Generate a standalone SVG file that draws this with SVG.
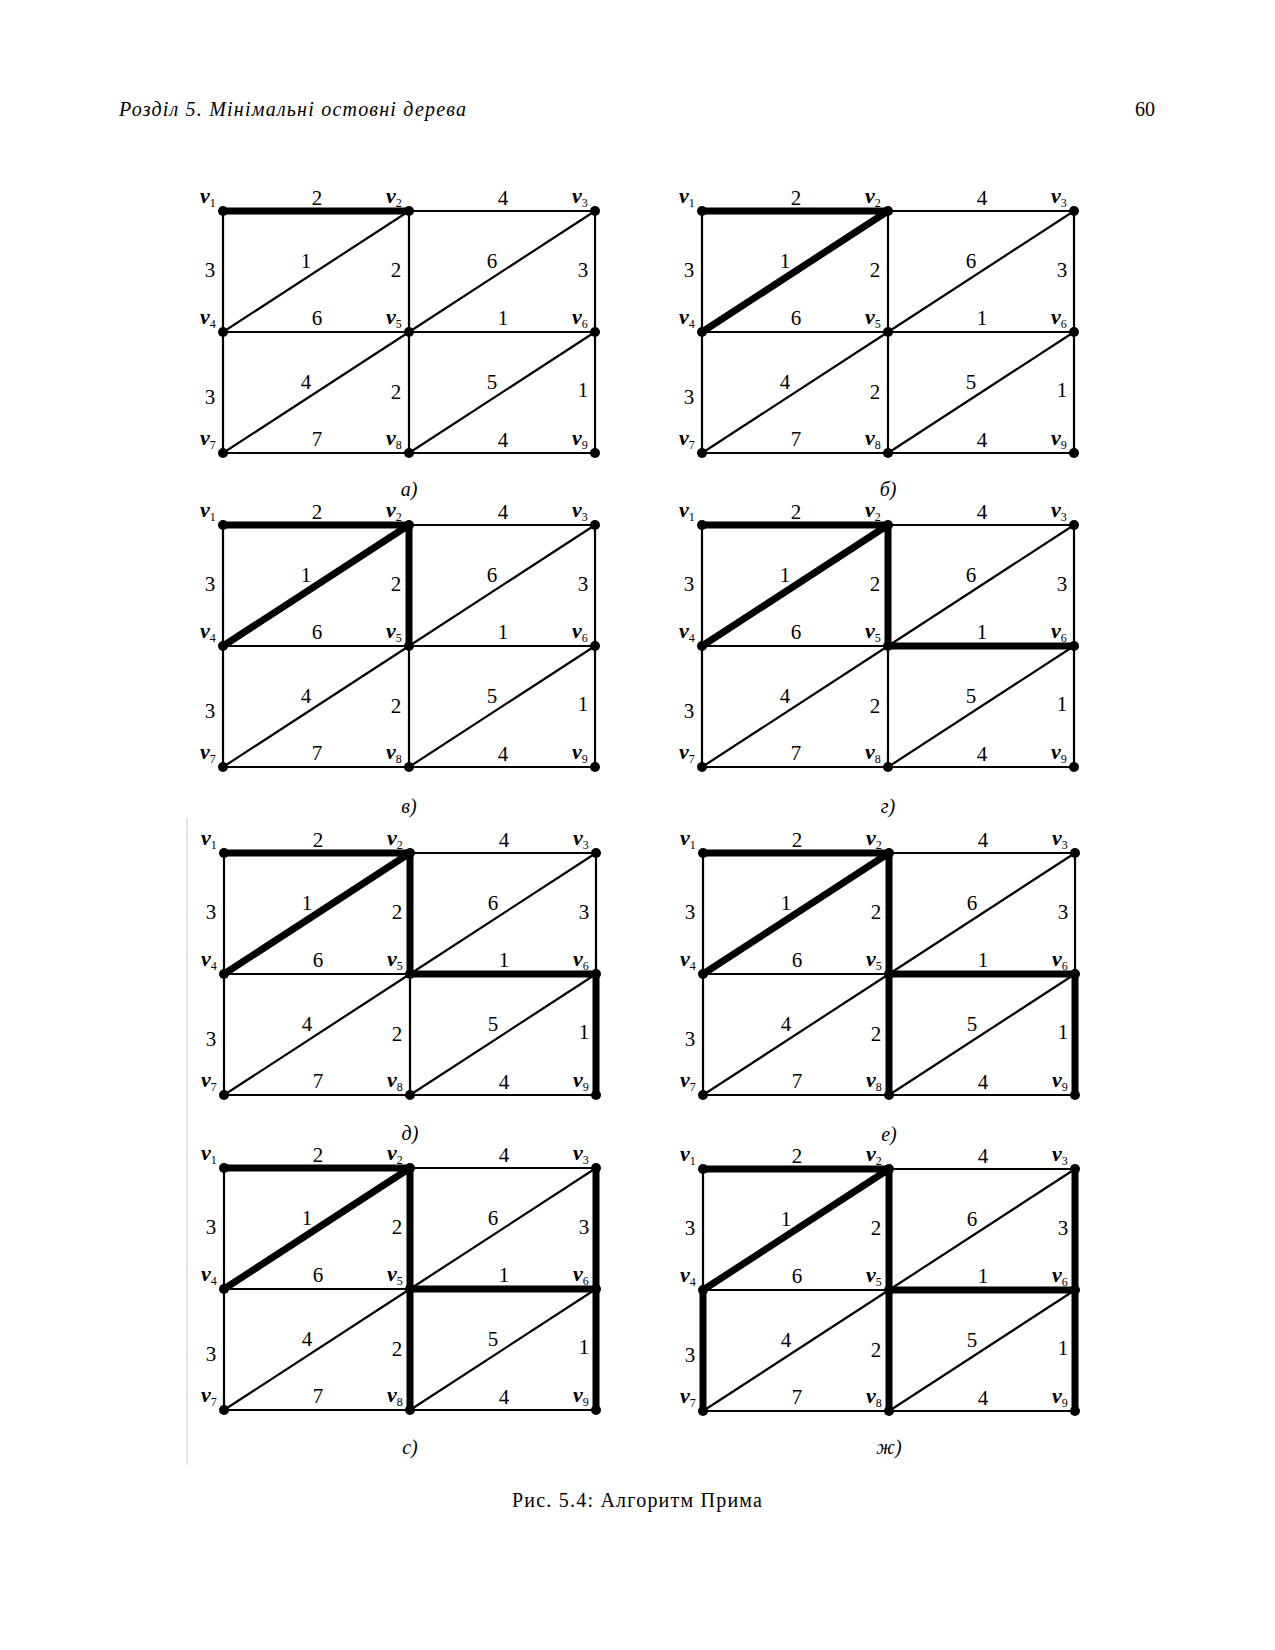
<svg xmlns="http://www.w3.org/2000/svg" width="1275" height="1650" viewBox="0 0 1275 1650">
<style>
.e{fill:none;stroke:#000;stroke-width:2.2}
.t{fill:none;stroke:#000;stroke-width:7}
circle{fill:#000}
.vl{font-family:"Liberation Serif",serif;font-style:italic;font-weight:bold;font-size:22px}
.vl tspan{font-size:12px;font-weight:normal;font-style:normal}
.wt{font-family:"Liberation Serif",serif;font-size:21px;text-anchor:middle}
.cap{font-family:"Liberation Serif",serif;font-style:italic;font-size:20px;text-anchor:middle}
.hd{font-family:"Liberation Serif",serif;font-size:20px}
</style>
<rect width="1275" height="1650" fill="#fff"/>
<text class="hd" x="119" y="116" font-style="italic" textLength="347" lengthAdjust="spacing">Розділ 5.  Мінімальні остовні дерева</text>
<text class="hd" x="1155" y="116" text-anchor="end">60</text>
<line x1="187" y1="818" x2="187" y2="1465" stroke="#c8c8c8" stroke-width="1"/>

<g id="panel-a" transform="translate(223,211)">
<g id="a-connectors">
<path class="e" d="M0 0H372M0 121H372M0 242H372M0 0V242M186 0V242M372 0V242M0 121L186 0M186 121L372 0M0 242L186 121M186 242L372 121"/>
<path class="t" d="M0 0H186"/>
<g class="wt"><text x="94" y="-6">2</text><text x="280" y="-6">4</text><text x="-13" y="66">3</text><text x="83" y="57">1</text><text x="173" y="66">2</text><text x="269" y="57">6</text><text x="360" y="66">3</text><text x="94" y="114">6</text><text x="280" y="114">1</text><text x="-13" y="193">3</text><text x="83" y="178">4</text><text x="173" y="188">2</text><text x="269" y="178">5</text><text x="360" y="186">1</text><text x="94" y="235">7</text><text x="280" y="236">4</text></g>
</g>
<g id="a-v1"><circle cx="0" cy="0" r="5"/><text class="vl" x="-23" y="-8">v<tspan dy="4">1</tspan></text></g>
<g id="a-v2"><circle cx="186" cy="0" r="5"/><text class="vl" x="163" y="-8">v<tspan dy="4">2</tspan></text></g>
<g id="a-v3"><circle cx="372" cy="0" r="5"/><text class="vl" x="349" y="-8">v<tspan dy="4">3</tspan></text></g>
<g id="a-v4"><circle cx="0" cy="121" r="5"/><text class="vl" x="-23" y="113">v<tspan dy="4">4</tspan></text></g>
<g id="a-v5"><circle cx="186" cy="121" r="5"/><text class="vl" x="163" y="113">v<tspan dy="4">5</tspan></text></g>
<g id="a-v6"><circle cx="372" cy="121" r="5"/><text class="vl" x="349" y="113">v<tspan dy="4">6</tspan></text></g>
<g id="a-v7"><circle cx="0" cy="242" r="5"/><text class="vl" x="-23" y="234">v<tspan dy="4">7</tspan></text></g>
<g id="a-v8"><circle cx="186" cy="242" r="5"/><text class="vl" x="163" y="234">v<tspan dy="4">8</tspan></text></g>
<g id="a-v9"><circle cx="372" cy="242" r="5"/><text class="vl" x="349" y="234">v<tspan dy="4">9</tspan></text></g>
<text class="cap" x="186" y="285">а)</text>
</g>

<g id="panel-b" transform="translate(702,211)">
<g id="b-connectors">
<path class="e" d="M0 0H372M0 121H372M0 242H372M0 0V242M186 0V242M372 0V242M0 121L186 0M186 121L372 0M0 242L186 121M186 242L372 121"/>
<path class="t" d="M0 0H186M0 121L186 0"/>
<g class="wt"><text x="94" y="-6">2</text><text x="280" y="-6">4</text><text x="-13" y="66">3</text><text x="83" y="57">1</text><text x="173" y="66">2</text><text x="269" y="57">6</text><text x="360" y="66">3</text><text x="94" y="114">6</text><text x="280" y="114">1</text><text x="-13" y="193">3</text><text x="83" y="178">4</text><text x="173" y="188">2</text><text x="269" y="178">5</text><text x="360" y="186">1</text><text x="94" y="235">7</text><text x="280" y="236">4</text></g>
</g>
<g id="b-v1"><circle cx="0" cy="0" r="5"/><text class="vl" x="-23" y="-8">v<tspan dy="4">1</tspan></text></g>
<g id="b-v2"><circle cx="186" cy="0" r="5"/><text class="vl" x="163" y="-8">v<tspan dy="4">2</tspan></text></g>
<g id="b-v3"><circle cx="372" cy="0" r="5"/><text class="vl" x="349" y="-8">v<tspan dy="4">3</tspan></text></g>
<g id="b-v4"><circle cx="0" cy="121" r="5"/><text class="vl" x="-23" y="113">v<tspan dy="4">4</tspan></text></g>
<g id="b-v5"><circle cx="186" cy="121" r="5"/><text class="vl" x="163" y="113">v<tspan dy="4">5</tspan></text></g>
<g id="b-v6"><circle cx="372" cy="121" r="5"/><text class="vl" x="349" y="113">v<tspan dy="4">6</tspan></text></g>
<g id="b-v7"><circle cx="0" cy="242" r="5"/><text class="vl" x="-23" y="234">v<tspan dy="4">7</tspan></text></g>
<g id="b-v8"><circle cx="186" cy="242" r="5"/><text class="vl" x="163" y="234">v<tspan dy="4">8</tspan></text></g>
<g id="b-v9"><circle cx="372" cy="242" r="5"/><text class="vl" x="349" y="234">v<tspan dy="4">9</tspan></text></g>
<text class="cap" x="186" y="285">б)</text>
</g>

<g id="panel-c" transform="translate(223,525)">
<g id="c-connectors">
<path class="e" d="M0 0H372M0 121H372M0 242H372M0 0V242M186 0V242M372 0V242M0 121L186 0M186 121L372 0M0 242L186 121M186 242L372 121"/>
<path class="t" d="M0 0H186M0 121L186 0M186 0V121"/>
<g class="wt"><text x="94" y="-6">2</text><text x="280" y="-6">4</text><text x="-13" y="66">3</text><text x="83" y="57">1</text><text x="173" y="66">2</text><text x="269" y="57">6</text><text x="360" y="66">3</text><text x="94" y="114">6</text><text x="280" y="114">1</text><text x="-13" y="193">3</text><text x="83" y="178">4</text><text x="173" y="188">2</text><text x="269" y="178">5</text><text x="360" y="186">1</text><text x="94" y="235">7</text><text x="280" y="236">4</text></g>
</g>
<g id="c-v1"><circle cx="0" cy="0" r="5"/><text class="vl" x="-23" y="-8">v<tspan dy="4">1</tspan></text></g>
<g id="c-v2"><circle cx="186" cy="0" r="5"/><text class="vl" x="163" y="-8">v<tspan dy="4">2</tspan></text></g>
<g id="c-v3"><circle cx="372" cy="0" r="5"/><text class="vl" x="349" y="-8">v<tspan dy="4">3</tspan></text></g>
<g id="c-v4"><circle cx="0" cy="121" r="5"/><text class="vl" x="-23" y="113">v<tspan dy="4">4</tspan></text></g>
<g id="c-v5"><circle cx="186" cy="121" r="5"/><text class="vl" x="163" y="113">v<tspan dy="4">5</tspan></text></g>
<g id="c-v6"><circle cx="372" cy="121" r="5"/><text class="vl" x="349" y="113">v<tspan dy="4">6</tspan></text></g>
<g id="c-v7"><circle cx="0" cy="242" r="5"/><text class="vl" x="-23" y="234">v<tspan dy="4">7</tspan></text></g>
<g id="c-v8"><circle cx="186" cy="242" r="5"/><text class="vl" x="163" y="234">v<tspan dy="4">8</tspan></text></g>
<g id="c-v9"><circle cx="372" cy="242" r="5"/><text class="vl" x="349" y="234">v<tspan dy="4">9</tspan></text></g>
<text class="cap" x="186" y="288">в)</text>
</g>

<g id="panel-d" transform="translate(702,525)">
<g id="d-connectors">
<path class="e" d="M0 0H372M0 121H372M0 242H372M0 0V242M186 0V242M372 0V242M0 121L186 0M186 121L372 0M0 242L186 121M186 242L372 121"/>
<path class="t" d="M0 0H186M0 121L186 0M186 0V121M186 121H372"/>
<g class="wt"><text x="94" y="-6">2</text><text x="280" y="-6">4</text><text x="-13" y="66">3</text><text x="83" y="57">1</text><text x="173" y="66">2</text><text x="269" y="57">6</text><text x="360" y="66">3</text><text x="94" y="114">6</text><text x="280" y="114">1</text><text x="-13" y="193">3</text><text x="83" y="178">4</text><text x="173" y="188">2</text><text x="269" y="178">5</text><text x="360" y="186">1</text><text x="94" y="235">7</text><text x="280" y="236">4</text></g>
</g>
<g id="d-v1"><circle cx="0" cy="0" r="5"/><text class="vl" x="-23" y="-8">v<tspan dy="4">1</tspan></text></g>
<g id="d-v2"><circle cx="186" cy="0" r="5"/><text class="vl" x="163" y="-8">v<tspan dy="4">2</tspan></text></g>
<g id="d-v3"><circle cx="372" cy="0" r="5"/><text class="vl" x="349" y="-8">v<tspan dy="4">3</tspan></text></g>
<g id="d-v4"><circle cx="0" cy="121" r="5"/><text class="vl" x="-23" y="113">v<tspan dy="4">4</tspan></text></g>
<g id="d-v5"><circle cx="186" cy="121" r="5"/><text class="vl" x="163" y="113">v<tspan dy="4">5</tspan></text></g>
<g id="d-v6"><circle cx="372" cy="121" r="5"/><text class="vl" x="349" y="113">v<tspan dy="4">6</tspan></text></g>
<g id="d-v7"><circle cx="0" cy="242" r="5"/><text class="vl" x="-23" y="234">v<tspan dy="4">7</tspan></text></g>
<g id="d-v8"><circle cx="186" cy="242" r="5"/><text class="vl" x="163" y="234">v<tspan dy="4">8</tspan></text></g>
<g id="d-v9"><circle cx="372" cy="242" r="5"/><text class="vl" x="349" y="234">v<tspan dy="4">9</tspan></text></g>
<text class="cap" x="186" y="288">г)</text>
</g>

<g id="panel-e" transform="translate(224,853)">
<g id="e-connectors">
<path class="e" d="M0 0H372M0 121H372M0 242H372M0 0V242M186 0V242M372 0V242M0 121L186 0M186 121L372 0M0 242L186 121M186 242L372 121"/>
<path class="t" d="M0 0H186M0 121L186 0M186 0V121M186 121H372M372 121V242"/>
<g class="wt"><text x="94" y="-6">2</text><text x="280" y="-6">4</text><text x="-13" y="66">3</text><text x="83" y="57">1</text><text x="173" y="66">2</text><text x="269" y="57">6</text><text x="360" y="66">3</text><text x="94" y="114">6</text><text x="280" y="114">1</text><text x="-13" y="193">3</text><text x="83" y="178">4</text><text x="173" y="188">2</text><text x="269" y="178">5</text><text x="360" y="186">1</text><text x="94" y="235">7</text><text x="280" y="236">4</text></g>
</g>
<g id="e-v1"><circle cx="0" cy="0" r="5"/><text class="vl" x="-23" y="-8">v<tspan dy="4">1</tspan></text></g>
<g id="e-v2"><circle cx="186" cy="0" r="5"/><text class="vl" x="163" y="-8">v<tspan dy="4">2</tspan></text></g>
<g id="e-v3"><circle cx="372" cy="0" r="5"/><text class="vl" x="349" y="-8">v<tspan dy="4">3</tspan></text></g>
<g id="e-v4"><circle cx="0" cy="121" r="5"/><text class="vl" x="-23" y="113">v<tspan dy="4">4</tspan></text></g>
<g id="e-v5"><circle cx="186" cy="121" r="5"/><text class="vl" x="163" y="113">v<tspan dy="4">5</tspan></text></g>
<g id="e-v6"><circle cx="372" cy="121" r="5"/><text class="vl" x="349" y="113">v<tspan dy="4">6</tspan></text></g>
<g id="e-v7"><circle cx="0" cy="242" r="5"/><text class="vl" x="-23" y="234">v<tspan dy="4">7</tspan></text></g>
<g id="e-v8"><circle cx="186" cy="242" r="5"/><text class="vl" x="163" y="234">v<tspan dy="4">8</tspan></text></g>
<g id="e-v9"><circle cx="372" cy="242" r="5"/><text class="vl" x="349" y="234">v<tspan dy="4">9</tspan></text></g>
<text class="cap" x="186" y="287">д)</text>
</g>

<g id="panel-f" transform="translate(703,853)">
<g id="f-connectors">
<path class="e" d="M0 0H372M0 121H372M0 242H372M0 0V242M186 0V242M372 0V242M0 121L186 0M186 121L372 0M0 242L186 121M186 242L372 121"/>
<path class="t" d="M0 0H186M0 121L186 0M186 0V121M186 121H372M372 121V242M186 121V242"/>
<g class="wt"><text x="94" y="-6">2</text><text x="280" y="-6">4</text><text x="-13" y="66">3</text><text x="83" y="57">1</text><text x="173" y="66">2</text><text x="269" y="57">6</text><text x="360" y="66">3</text><text x="94" y="114">6</text><text x="280" y="114">1</text><text x="-13" y="193">3</text><text x="83" y="178">4</text><text x="173" y="188">2</text><text x="269" y="178">5</text><text x="360" y="186">1</text><text x="94" y="235">7</text><text x="280" y="236">4</text></g>
</g>
<g id="f-v1"><circle cx="0" cy="0" r="5"/><text class="vl" x="-23" y="-8">v<tspan dy="4">1</tspan></text></g>
<g id="f-v2"><circle cx="186" cy="0" r="5"/><text class="vl" x="163" y="-8">v<tspan dy="4">2</tspan></text></g>
<g id="f-v3"><circle cx="372" cy="0" r="5"/><text class="vl" x="349" y="-8">v<tspan dy="4">3</tspan></text></g>
<g id="f-v4"><circle cx="0" cy="121" r="5"/><text class="vl" x="-23" y="113">v<tspan dy="4">4</tspan></text></g>
<g id="f-v5"><circle cx="186" cy="121" r="5"/><text class="vl" x="163" y="113">v<tspan dy="4">5</tspan></text></g>
<g id="f-v6"><circle cx="372" cy="121" r="5"/><text class="vl" x="349" y="113">v<tspan dy="4">6</tspan></text></g>
<g id="f-v7"><circle cx="0" cy="242" r="5"/><text class="vl" x="-23" y="234">v<tspan dy="4">7</tspan></text></g>
<g id="f-v8"><circle cx="186" cy="242" r="5"/><text class="vl" x="163" y="234">v<tspan dy="4">8</tspan></text></g>
<g id="f-v9"><circle cx="372" cy="242" r="5"/><text class="vl" x="349" y="234">v<tspan dy="4">9</tspan></text></g>
<text class="cap" x="186" y="288">е)</text>
</g>

<g id="panel-g" transform="translate(224,1168)">
<g id="g-connectors">
<path class="e" d="M0 0H372M0 121H372M0 242H372M0 0V242M186 0V242M372 0V242M0 121L186 0M186 121L372 0M0 242L186 121M186 242L372 121"/>
<path class="t" d="M0 0H186M0 121L186 0M186 0V121M186 121H372M372 121V242M186 121V242M372 0V121"/>
<g class="wt"><text x="94" y="-6">2</text><text x="280" y="-6">4</text><text x="-13" y="66">3</text><text x="83" y="57">1</text><text x="173" y="66">2</text><text x="269" y="57">6</text><text x="360" y="66">3</text><text x="94" y="114">6</text><text x="280" y="114">1</text><text x="-13" y="193">3</text><text x="83" y="178">4</text><text x="173" y="188">2</text><text x="269" y="178">5</text><text x="360" y="186">1</text><text x="94" y="235">7</text><text x="280" y="236">4</text></g>
</g>
<g id="g-v1"><circle cx="0" cy="0" r="5"/><text class="vl" x="-23" y="-8">v<tspan dy="4">1</tspan></text></g>
<g id="g-v2"><circle cx="186" cy="0" r="5"/><text class="vl" x="163" y="-8">v<tspan dy="4">2</tspan></text></g>
<g id="g-v3"><circle cx="372" cy="0" r="5"/><text class="vl" x="349" y="-8">v<tspan dy="4">3</tspan></text></g>
<g id="g-v4"><circle cx="0" cy="121" r="5"/><text class="vl" x="-23" y="113">v<tspan dy="4">4</tspan></text></g>
<g id="g-v5"><circle cx="186" cy="121" r="5"/><text class="vl" x="163" y="113">v<tspan dy="4">5</tspan></text></g>
<g id="g-v6"><circle cx="372" cy="121" r="5"/><text class="vl" x="349" y="113">v<tspan dy="4">6</tspan></text></g>
<g id="g-v7"><circle cx="0" cy="242" r="5"/><text class="vl" x="-23" y="234">v<tspan dy="4">7</tspan></text></g>
<g id="g-v8"><circle cx="186" cy="242" r="5"/><text class="vl" x="163" y="234">v<tspan dy="4">8</tspan></text></g>
<g id="g-v9"><circle cx="372" cy="242" r="5"/><text class="vl" x="349" y="234">v<tspan dy="4">9</tspan></text></g>
<text class="cap" x="186" y="286">с)</text>
</g>

<g id="panel-h" transform="translate(703,1169)">
<g id="h-connectors">
<path class="e" d="M0 0H372M0 121H372M0 242H372M0 0V242M186 0V242M372 0V242M0 121L186 0M186 121L372 0M0 242L186 121M186 242L372 121"/>
<path class="t" d="M0 0H186M0 121L186 0M186 0V121M186 121H372M372 121V242M186 121V242M372 0V121M0 121V242"/>
<g class="wt"><text x="94" y="-6">2</text><text x="280" y="-6">4</text><text x="-13" y="66">3</text><text x="83" y="57">1</text><text x="173" y="66">2</text><text x="269" y="57">6</text><text x="360" y="66">3</text><text x="94" y="114">6</text><text x="280" y="114">1</text><text x="-13" y="193">3</text><text x="83" y="178">4</text><text x="173" y="188">2</text><text x="269" y="178">5</text><text x="360" y="186">1</text><text x="94" y="235">7</text><text x="280" y="236">4</text></g>
</g>
<g id="h-v1"><circle cx="0" cy="0" r="5"/><text class="vl" x="-23" y="-8">v<tspan dy="4">1</tspan></text></g>
<g id="h-v2"><circle cx="186" cy="0" r="5"/><text class="vl" x="163" y="-8">v<tspan dy="4">2</tspan></text></g>
<g id="h-v3"><circle cx="372" cy="0" r="5"/><text class="vl" x="349" y="-8">v<tspan dy="4">3</tspan></text></g>
<g id="h-v4"><circle cx="0" cy="121" r="5"/><text class="vl" x="-23" y="113">v<tspan dy="4">4</tspan></text></g>
<g id="h-v5"><circle cx="186" cy="121" r="5"/><text class="vl" x="163" y="113">v<tspan dy="4">5</tspan></text></g>
<g id="h-v6"><circle cx="372" cy="121" r="5"/><text class="vl" x="349" y="113">v<tspan dy="4">6</tspan></text></g>
<g id="h-v7"><circle cx="0" cy="242" r="5"/><text class="vl" x="-23" y="234">v<tspan dy="4">7</tspan></text></g>
<g id="h-v8"><circle cx="186" cy="242" r="5"/><text class="vl" x="163" y="234">v<tspan dy="4">8</tspan></text></g>
<g id="h-v9"><circle cx="372" cy="242" r="5"/><text class="vl" x="349" y="234">v<tspan dy="4">9</tspan></text></g>
<text class="cap" x="186" y="285">ж)</text>
</g>

<text class="hd" x="637" y="1507" text-anchor="middle" font-size="20" textLength="250" lengthAdjust="spacing">Рис. 5.4: Алгоритм Прима</text>
</svg>
